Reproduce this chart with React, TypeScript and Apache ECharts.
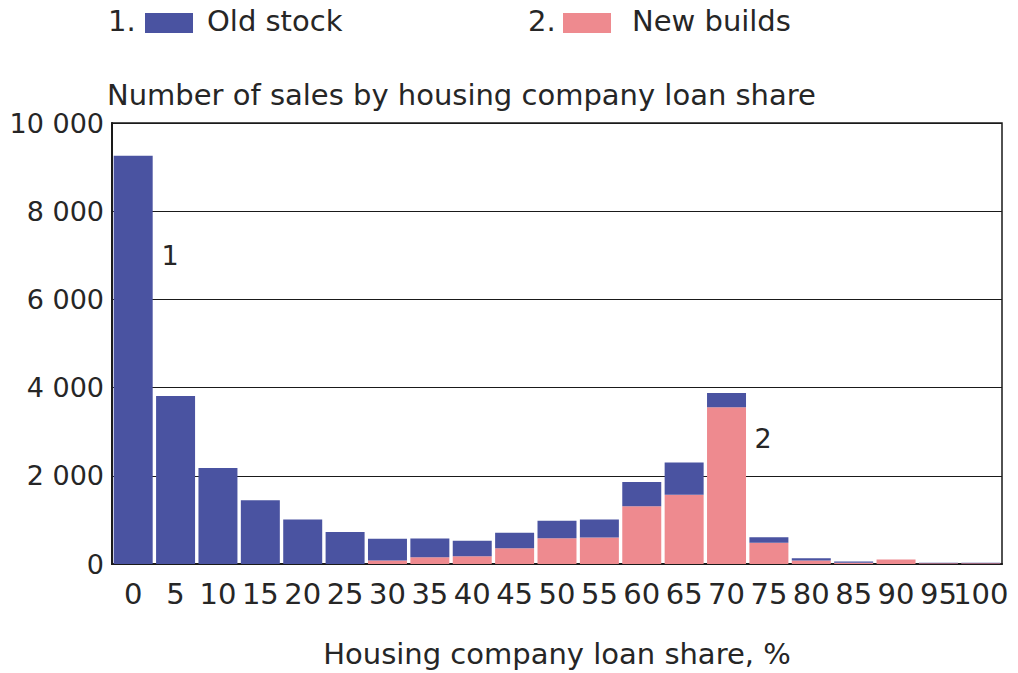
import React, { useEffect, useRef } from "react";
import * as echarts from "echarts";

const categories = ["0","5","10","15","20","25","30","35","40","45","50","55","60","65","70","75","80","85","90","95","100"];
const oldStock = [9260, 3807, 2178, 1443, 1011, 723, 493, 425, 350, 350, 396, 409, 552, 727, 318, 127, 52, 30, 2, 12, 12];
const newBuilds = [0, 0, 0, 0, 0, 0, 80, 155, 177, 359, 586, 602, 1307, 1573, 3557, 482, 80, 27, 100, 15, 15];
const yTicks = [0, 2000, 4000, 6000, 8000, 10000];

const FONT = "DejaVu Sans";
const TXT = "#262626";
const BLUE = "#4a53a1";
const PINK = "#ee8a8f";

export default function App() {
  const ref = useRef<HTMLDivElement>(null);
  useEffect(() => {
    if (!ref.current) return;
    const chart = echarts.init(ref.current, null, { renderer: "svg" });
    const fmt = (v: number) => String(v).replace(/\B(?=(\d{3})+(?!\d))/g, " ");
    chart.setOption({
      animation: false,
      backgroundColor: "#ffffff",
      textStyle: { fontFamily: FONT },
      title: {
        text: "Number of sales by housing company loan share",
        left: 107,
        top: 80,
        padding: 0,
        textStyle: { fontFamily: FONT, fontSize: 29, fontWeight: "normal", color: TXT },
      },
      grid: {
        left: 112,
        right: 16,
        top: 123,
        bottom: 109,
        outerBoundsMode: "none",
        containLabel: false,
        show: true,
        borderColor: "#1a1a1a",
        borderWidth: 1.5,
        backgroundColor: "transparent",
      },
      xAxis: {
        type: "category",
        data: categories,
        name: "Housing company loan share, %",
        nameLocation: "middle",
        nameGap: 75,
        nameTextStyle: { fontFamily: FONT, fontSize: 29, color: TXT },
        axisLine: { show: true, lineStyle: { color: "#1a1a1a", width: 2 } },
        axisTick: { show: false },
        axisLabel: { interval: 0, hideOverlap: false, fontFamily: FONT, fontSize: 29, color: TXT, margin: 15 },
      },
      yAxis: {
        type: "value",
        min: yTicks[0],
        max: yTicks[yTicks.length - 1],
        interval: 2000,
        axisLine: { show: true, lineStyle: { color: "#1a1a1a", width: 2 } },
        axisTick: { show: false },
        splitLine: { show: true, lineStyle: { color: "#1a1a1a", width: 1 } },
        axisLabel: { fontFamily: FONT, fontSize: 27, color: TXT, margin: 8, formatter: fmt },
      },
      series: [
        {
          name: "New builds",
          type: "bar",
          stack: "total",
          data: newBuilds,
          barCategoryGap: "8%",
          itemStyle: { color: PINK },
        },
        {
          name: "Old stock",
          type: "bar",
          stack: "total",
          data: oldStock,
          barCategoryGap: "8%",
          itemStyle: { color: BLUE },
        },
      ],
      graphic: [
        { type: "text", x: 108, y: 21, style: { text: "1.", font: `29px '${FONT}'`, fill: TXT, textVerticalAlign: "middle" } },
        { type: "rect", shape: { x: 145, y: 13, width: 48, height: 20 }, style: { fill: BLUE } },
        { type: "text", x: 207, y: 21, style: { text: "Old stock", font: `29px '${FONT}'`, fill: TXT, textVerticalAlign: "middle" } },
        { type: "text", x: 528, y: 21, style: { text: "2.", font: `29px '${FONT}'`, fill: TXT, textVerticalAlign: "middle" } },
        { type: "rect", shape: { x: 563, y: 13, width: 48, height: 20 }, style: { fill: PINK } },
        { type: "text", x: 632, y: 21, style: { text: "New builds", font: `29px '${FONT}'`, fill: TXT, textVerticalAlign: "middle" } },
        { type: "text", x: 170, y: 255, style: { text: "1", font: `27px '${FONT}'`, fill: TXT, textAlign: "center", textVerticalAlign: "middle" } },
        { type: "text", x: 763, y: 438, style: { text: "2", font: `27px '${FONT}'`, fill: TXT, textAlign: "center", textVerticalAlign: "middle" } },
      ],
    });
    return () => chart.dispose();
  }, []);
  return (
    <div
      ref={ref}
      style={{ position: "fixed", left: 0, top: 0, width: 1018, height: 673, background: "#fff" }}
    />
  );
}
